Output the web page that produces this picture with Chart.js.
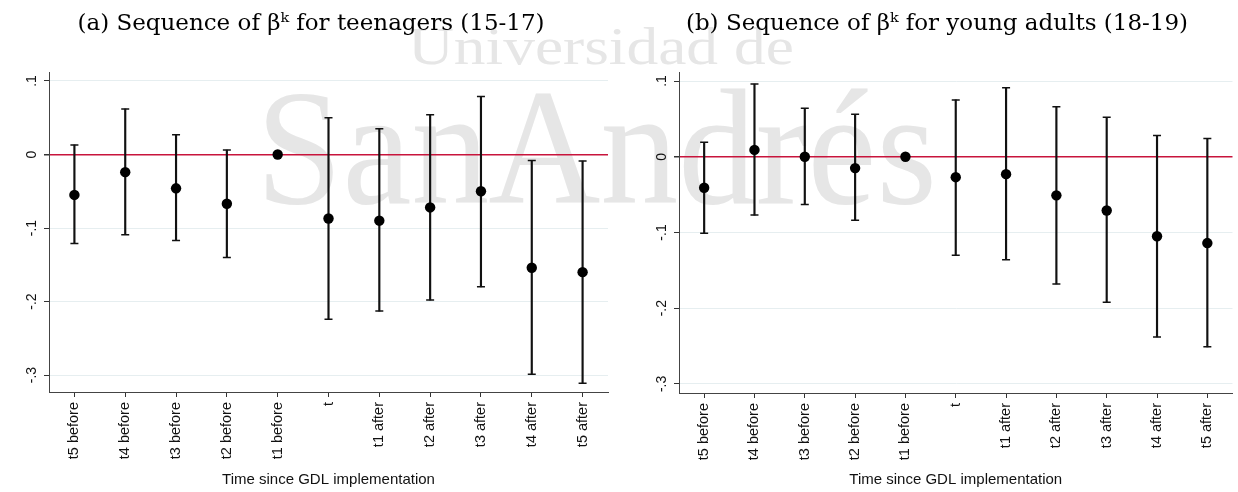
<!DOCTYPE html>
<html>
<head>
<meta charset="utf-8">
<script src="https://cdn.jsdelivr.net/npm/chart.js@4.4.1/dist/chart.umd.min.js"></script>
<style>
  html, body { margin: 0; padding: 0; background: #ffffff; }
  body { width: 1238px; height: 492px; position: relative; overflow: hidden; }
  .wm { position: absolute; font-family: 'Liberation Serif', serif; color: #e6e6e6; white-space: nowrap; line-height: 1; transform-origin: left top; z-index: 0; }
  #wm1 { left: 408px; top: 21px; font-size: 52px; transform: scaleX(1.22); }
  #wm2 { left: 256px; top: 64px; font-size: 166px; word-spacing: -0.2em; transform: scaleX(0.936); }
  .panel { position: absolute; top: 0; height: 492px; z-index: 1; }
  #panelA { left: 0; width: 622px; }
  #panelB { left: 636px; width: 602px; }
</style>
</head>
<body>
<div class="wm" id="wm1">Universidad de</div>
<div class="wm" id="wm2">San Andrés</div>
<div class="panel" id="panelA"><canvas id="chartA" width="622" height="492"></canvas></div>
<div class="panel" id="panelB"><canvas id="chartB" width="602" height="492"></canvas></div>
<script>
// ---- data ----
const categories = ['t5 before', 't4 before', 't3 before', 't2 before', 't1 before', 't',
                    't1 after', 't2 after', 't3 after', 't4 after', 't5 after'];
const yTickValues = [-0.3, -0.2, -0.1, 0, 0.1];
const yTickLabels = ['-.3', '-.2', '-.1', '0', '.1'];

const titleA = '(a) Sequence of \u03B2\u1D4F for teenagers (15-17)';
const titleB = '(b) Sequence of \u03B2\u1D4F for young adults (18-19)';
const xTitle = 'Time since GDL implementation';

const teenCoef  = [-0.055, -0.024, -0.046, -0.067, 0, -0.087, -0.090, -0.072, -0.050, -0.154, -0.160];
const teenLower = [-0.121, -0.109, -0.117, -0.140, null, -0.224, -0.213, -0.198, -0.180, -0.299, -0.311];
const teenUpper = [ 0.013,  0.062,  0.027,  0.006, null,  0.050,  0.035,  0.054,  0.079, -0.008, -0.009];

const adultCoef  = [-0.041, 0.009, 0.000, -0.015, 0, -0.027, -0.023, -0.051, -0.071, -0.105, -0.114];
const adultLower = [-0.101, -0.077, -0.063, -0.084, null, -0.130, -0.136, -0.168, -0.192, -0.238, -0.251];
const adultUpper = [ 0.019,  0.096,  0.064,  0.056, null,  0.075,  0.091,  0.066,  0.052,  0.028,  0.024];

// ---- chart builder ----
function makeChart(canvasId, title, coef, lower, upper, opts) {
  const ranges = lower.map((l, i) => (l === null ? null : [l, upper[i]]));
  return new Chart(document.getElementById(canvasId), {
    type: 'bar',
    data: {
      labels: categories,
      datasets: [
        {
          type: 'line', data: coef, showLine: false,
          pointRadius: 5.2, pointBackgroundColor: '#000', pointBorderWidth: 0,
          pointBorderColor: '#000', order: 0
        },
        {
          type: 'line', data: upper, showLine: false, pointStyle: 'line',
          pointRadius: 4, pointBorderWidth: 1.5, pointBorderColor: '#111', order: 1
        },
        {
          type: 'line', data: lower, showLine: false, pointStyle: 'line',
          pointRadius: 4, pointBorderWidth: 1.5, pointBorderColor: '#111', order: 1
        },
        {
          type: 'bar', data: ranges, backgroundColor: '#111', borderWidth: 0,
          barThickness: 1.5, order: 2
        }
      ]
    },
    options: {
      responsive: false,
      animation: false,
      events: [],
      layout: { padding: { left: opts.leftPad, right: opts.rightPad, top: 0, bottom: 0 } },
      plugins: {
        legend: { display: false },
        tooltip: { enabled: false },
        title: {
          display: true, text: title, color: '#000',
          font: { family: "'DejaVu Serif', serif", size: 23, weight: 'normal', lineHeight: 1.2 },
          padding: { top: 10, bottom: 34.4 }
        }
      },
      scales: {
        x: {
          type: 'category',
          offset: true,
          grid: { display: true, drawOnChartArea: false, drawTicks: true, tickLength: 5,
                  tickColor: '#333', offset: false },
          border: { display: true, color: '#444', width: 1 },
          ticks: { autoSkip: false, minRotation: 90, maxRotation: 90, padding: 5, color: '#111',
                   font: { family: "'Liberation Sans', Arial, sans-serif", size: 14.5 } },
          title: { display: true, text: xTitle, color: '#111',
                   font: { family: "'Liberation Sans', Arial, sans-serif", size: 15 },
                   padding: { top: 0, bottom: 3 } },
          afterFit: (s) => { s.height = opts.xHeight; }
        },
        y: {
          type: 'linear',
          min: opts.yMin, max: opts.yMax,
          afterBuildTicks: (s) => { s.ticks = yTickValues.map(v => ({ value: v })); },
          grid: {
            drawTicks: true, tickLength: 5, tickColor: '#333',
            color: (c) => (c.tick && c.tick.value === 0 ? '#c8143c' : '#e6eef0'),
            lineWidth: (c) => (c.tick && c.tick.value === 0 ? 1.5 : 1)
          },
          border: { display: true, color: '#444', width: 1 },
          ticks: {
            minRotation: 90, maxRotation: 90, crossAlign: 'center', padding: 4, color: '#111',
            font: { family: "'Liberation Sans', Arial, sans-serif", size: 14 },
            callback: (v) => { const i = yTickValues.indexOf(v); return i >= 0 ? yTickLabels[i] : ''; }
          },
          afterFit: (s) => { s.width = opts.yWidth; }
        }
      }
    }
  });
}

makeChart('chartA', titleA, teenCoef, teenLower, teenUpper,
  { leftPad: 14, rightPad: 14, xHeight: 100, yWidth: 35, yMin: -0.323, yMax: 0.1122 });
makeChart('chartB', titleB, adultCoef, adultLower, adultUpper,
  { leftPad: 0, rightPad: 0, xHeight: 99, yWidth: 43, yMin: -0.312, yMax: 0.1119 });
</script>
</body>
</html>
